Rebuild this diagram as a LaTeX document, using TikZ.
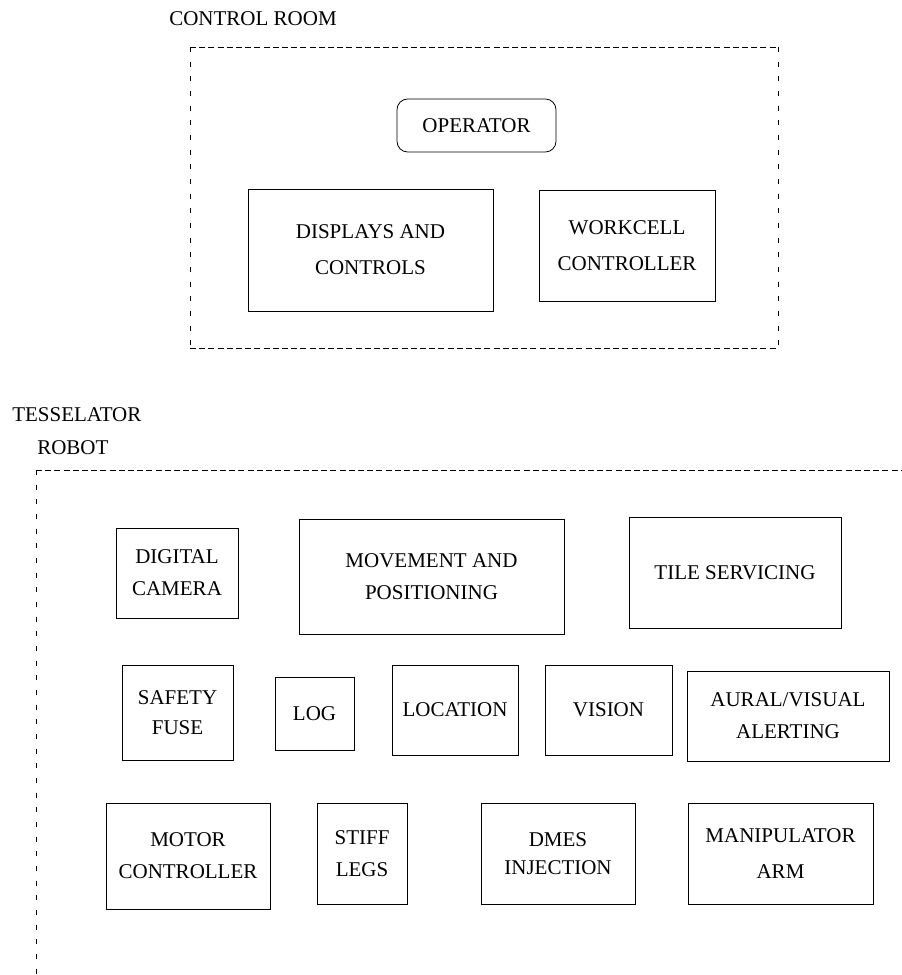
\documentclass[tikz,border=0pt]{standalone}
\usepackage{fontspec}
\setmainfont{Liberation Serif}
\usetikzlibrary{positioning}
\tikzset{
	unit/.style={
		rectangle,
		draw=black,
		line width=0.6pt,
		align=center,
		inner sep=0pt,
		font=\fontsize{15.75}{24}\selectfont
	},
	person/.style={
		unit,
		rounded corners=8pt
	},
	title/.style={
		anchor=west,
		inner sep=0pt,
		font=\fontsize{15.75}{24}\selectfont
	},
	lines/.style={font=\fontsize{15.75}{#1}\selectfont},
	dims/.style 2 args={minimum width=#1*0.75pt, minimum height=#2*0.75pt},
	hdash/.style={line width=0.6pt, dash pattern=on 4.5pt off 2.4pt},
	vdash/.style={line width=0.6pt, dash pattern=on 3.8pt off 7.2pt}
}

\begin{document}
\begin{tikzpicture}[x=0.75pt, y=-0.75pt]
	\useasboundingbox (0,0) rectangle (902,975);

	% control room
	\node (crlabel) [title] at (169,19) {CONTROL ROOM};
	\draw [hdash] (190,47) -- (778,47);
	\draw [hdash] (190,348) -- (778,348);
	\draw [vdash] (190,47) -- (190,348);
	\draw [vdash] (778,47) -- (778,348);

	\node (operator) [person, dims={159}{53}] at (476.5,125.5) {OPERATOR};
	\node (displays) [unit, lines=27pt, dims={245}{122}] at (370.5,250) {DISPLAYS AND\\CONTROLS};
	\node (workcell) [unit, lines=27pt, dims={176}{111}] at (627,246) {WORKCELL\\CONTROLLER};

	% robot
	\node (tess) [title] at (12,415) {TESSELATOR};
	\node (robot) [title] at (37,448) {ROBOT};
	\draw [hdash] (36,470) -- (902,470);
	\draw [vdash] (36,470) -- (36,975);

	\node (camera) [unit, dims={122}{90}] at (177,573) {DIGITAL\\CAMERA};
	\node (movement) [unit, dims={265}{115}] at (431.5,576.5) {MOVEMENT AND\\POSITIONING};
	\node (tile) [unit, dims={212}{111}] at (735,572.5) {TILE SERVICING};

	\node (fuse) [unit, lines=23pt, dims={111}{95}] at (177.5,712.5) {SAFETY\\FUSE};
	\node (log) [unit, dims={79}{73}] at (314.5,713.5) {LOG};
	\node (location) [unit, dims={126}{90}] at (455,710) {LOCATION};
	\node (vision) [unit, dims={127}{90}] at (608.5,710) {VISION};
	\node (alert) [unit, dims={202}{90}] at (788,716) {AURAL/VISUAL\\ALERTING};

	\node (motor) [unit, dims={164}{106}] at (188,856) {MOTOR\\CONTROLLER};
	\node (legs) [unit, dims={90}{101}] at (362,853.5) {STIFF\\LEGS};
	\node (dmes) [unit, lines=20.5pt, dims={154}{101}] at (558,853.5) {DMES\\INJECTION};
	\node (arm) [unit, lines=27.5pt, dims={185}{101}] at (780.5,853.5) {MANIPULATOR\\ARM};
\end{tikzpicture}
\end{document}
